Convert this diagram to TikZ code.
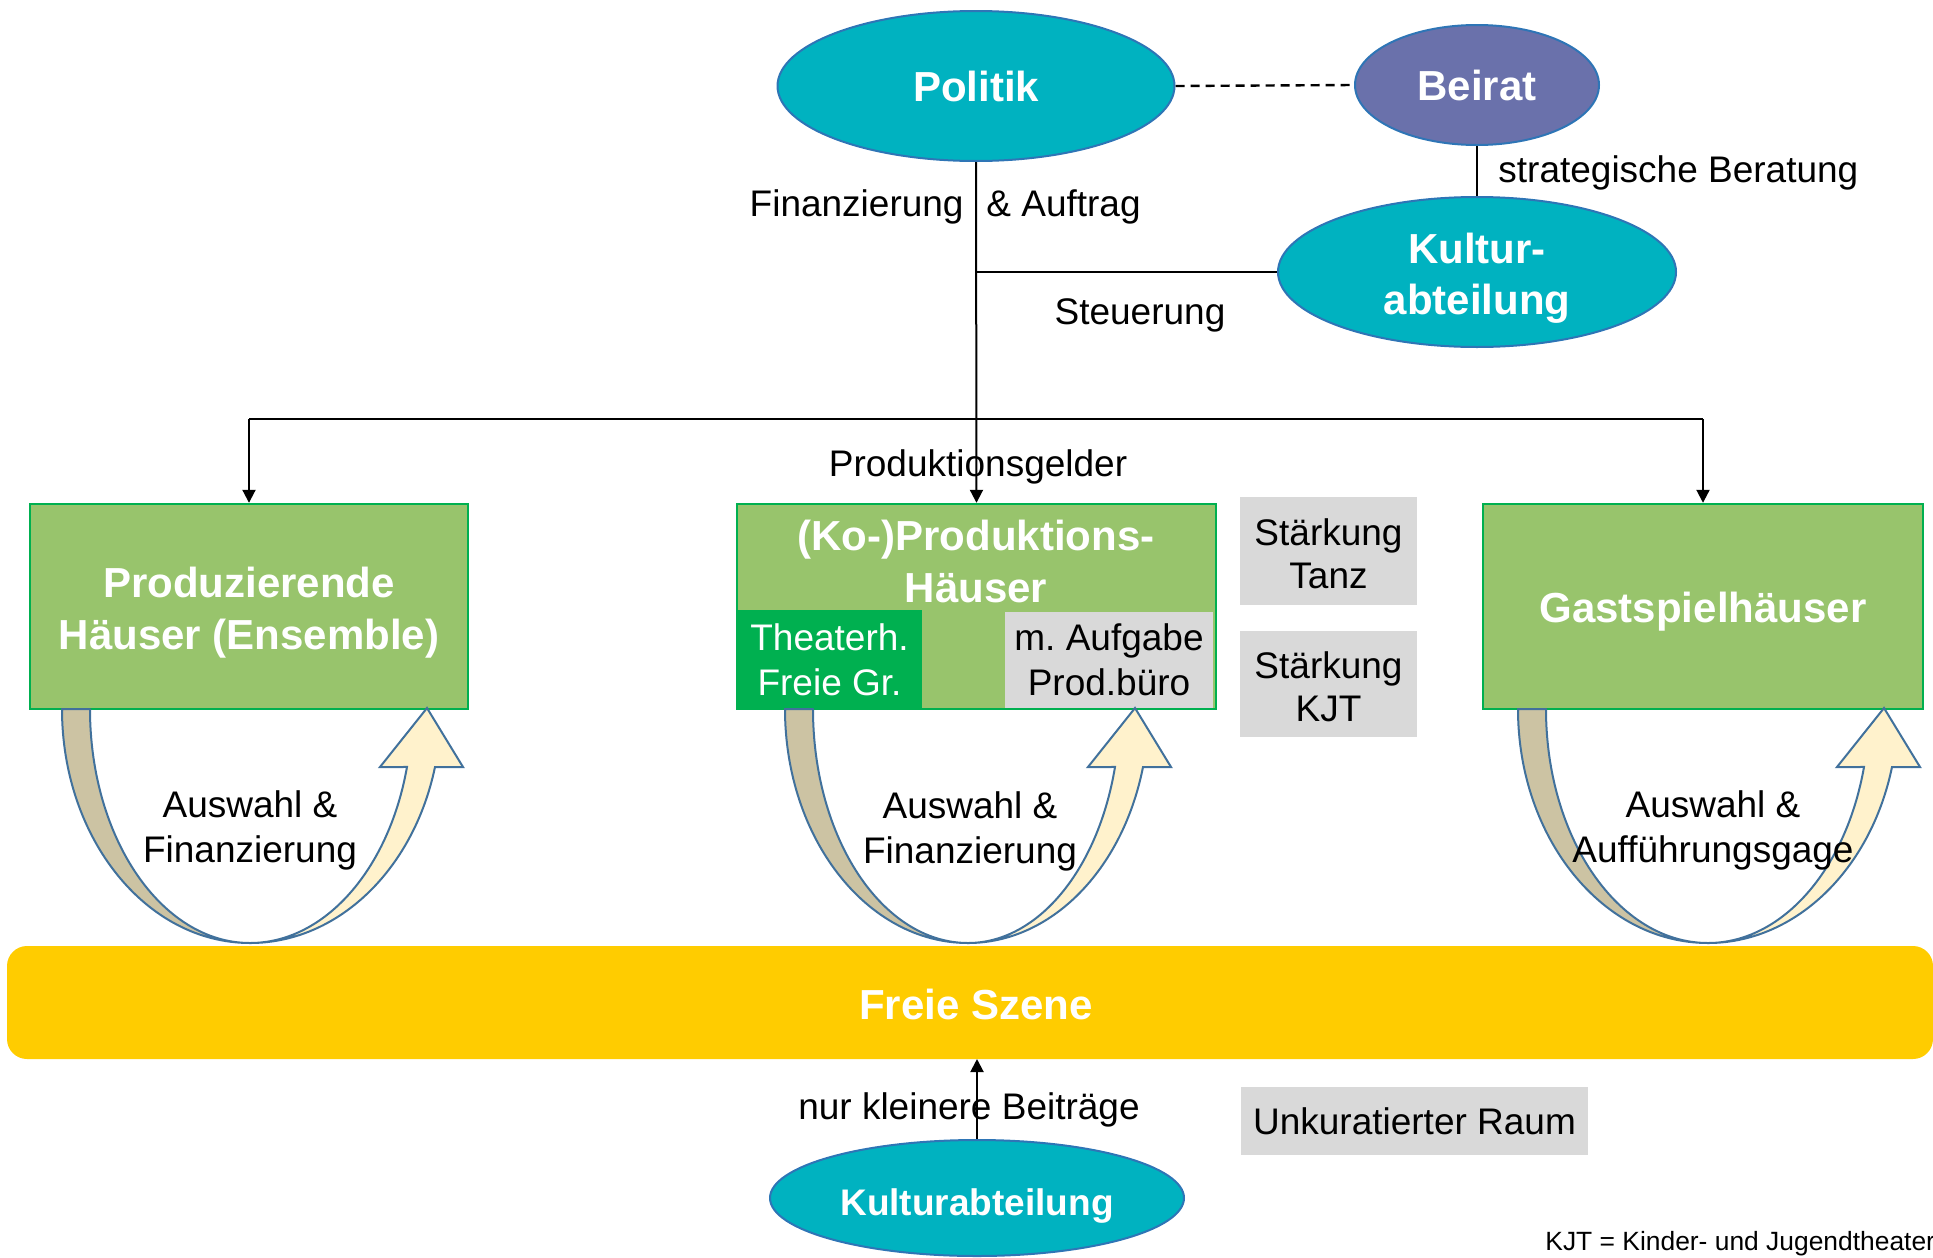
\documentclass[tikz,border=0pt]{standalone}
\usepackage{fontspec}
\setmainfont{Liberation Sans}
\frenchspacing
\usetikzlibrary{shapes.geometric,arrows.meta}
\definecolor{tealc}{HTML}{00B2C0}
\definecolor{beiratc}{HTML}{6A71AB}
\definecolor{ellline}{HTML}{2E75B6}
\definecolor{boxg}{HTML}{98C46C}
\definecolor{boxline}{HTML}{00B050}
\definecolor{darkg}{HTML}{00B050}
\definecolor{grayc}{HTML}{D9D9D9}
\definecolor{yellowc}{HTML}{FFCC00}
\definecolor{tanc}{HTML}{CCC3A3}
\definecolor{creamc}{HTML}{FFF2CC}
\definecolor{arrline}{HTML}{41719C}
\newcommand\uturn[3]{%
 \pgfmathsetmacro\ulo{#2}\pgfmathsetmacro\uli{#2-28}%
 \pgfmathsetmacro\uri{#3/0.9688}\pgfmathsetmacro\uro{(#3+28)/0.9688}%
 \filldraw[uback] ({#1-#2},709) arc[start angle=180,end angle=90,x radius=\ulo,y radius=234]
   arc[start angle=90,end angle=180,x radius=\uli,y radius=234] -- cycle;
 \filldraw[ufront] (#1,943) arc[start angle=90,end angle=14.35,x radius=\uri,y radius=234]
   -- ({#1+#3-27},767) -- ({#1+#3+20},708) -- ({#1+#3+56},767) -- ({#1+#3+28},767)
   arc[start angle=14.35,end angle=90,x radius=\uro,y radius=234] -- cycle;
}
\begin{document}
\begin{tikzpicture}[x=0.5pt,y=-0.5pt,
 reg/.style={font=\fontsize{18.5}{22.5}\selectfont, inner sep=0pt, align=center},
 bld/.style={font=\fontsize{21}{26}\selectfont\bfseries, text=white, align=center, inner sep=0pt},
 ell/.style={ellipse, draw=ellline, line width=1pt, fill=tealc, inner sep=0pt},
 house/.style={rectangle, draw=boxline, line width=1.2pt, fill=boxg, inner sep=0pt, minimum height=102.5pt},
 graybox/.style={rectangle, fill=grayc, inner sep=0pt},
 gtext/.style={font=\fontsize{18.5}{21.5}\selectfont, align=center, inner sep=0pt},
 conn/.style={line width=1pt, black},
 arr/.style={conn, -{Triangle[length=6.5pt,width=6.5pt]}},
 uback/.style={fill=tanc, draw=arrline, line width=1pt, line join=round},
 ufront/.style={fill=creamc, draw=arrline, line width=1pt, line join=miter},
]
\useasboundingbox (0,0) rectangle (1933,1258);

% Freie Szene bar
\fill[yellowc, rounded corners=10pt] (7,946) rectangle (1933,1059);
\node[bld] (szene) at (976,1004) {Freie Szene};
\coordinate (barbot) at (977,1059);

% ellipses
\node[ell, minimum width=198.5pt, minimum height=75pt, bld] (politik) at (976,86) {Politik};
\node[ell, fill=beiratc, minimum width=122pt, minimum height=60pt, bld] (beirat) at (1477,85) {Beirat};
\node[ell, minimum width=199pt, minimum height=75pt] (kultur) at (1477,272) {};
\node[bld, font=\fontsize{21}{25.5}\selectfont\bfseries] (kulturtxt) at (1477,278) {Kultur-\\abteilung};
\node[ell, minimum width=207pt, minimum height=58pt] (kbottom) at (977,1198) {};
\node[bld, font=\fontsize{18.5}{22}\selectfont\bfseries] (kbottomtxt) at (977,1206) {Kulturabteilung};

% houses
\node[house, minimum width=219pt] (left) at (249,606.5) {};
\node[bld] (lefttxt) at (249,612.5) {Produzierende\\Häuser (Ensemble)};
\node[house, minimum width=239.5pt] (mid) at (976.5,606.5) {};
\node[house, minimum width=220pt] (right) at (1703,606.5) {};
\node[bld] (righttxt) at (1703,611.5) {Gastspielhäuser};
\node[bld] (midtitle) at (976,561) {(Ko-)Produktions-\\Häuser};
\node[rectangle, fill=darkg, inner sep=0pt, minimum width=92.5pt, minimum height=49.5pt, text=white, align=center, font=\fontsize{18.5}{22.5}\selectfont] (theater) at (829.5,659.5) {Theaterh.\\Freie Gr.};
\node[graybox, minimum width=104pt, minimum height=48pt, align=center, font=\fontsize{18.5}{22.5}\selectfont] (prod) at (1109,660) {m. Aufgabe\\Prod.büro};

% gray boxes
\node[graybox, minimum width=88.5pt, minimum height=54pt] (tanz) at (1328.5,551) {};
\node[gtext] (tanztxt) at (1328.5,553.5) {Stärkung\\Tanz};
\node[graybox, minimum width=88.5pt, minimum height=53pt] (kjt) at (1328.5,684) {};
\node[gtext] (kjttxt) at (1328.5,687) {Stärkung\\KJT};
\node[graybox, minimum width=173.5pt, minimum height=34pt, gtext] (unkur) at (1414.5,1121) {Unkuratierter Raum};

% labels
\node[reg, anchor=base east] (lfin) at (964,216) {Finanzierung};
\node[reg, anchor=base west] (lauf) at (986,216) {\& Auftrag};
\node[reg, anchor=base] (lsteu) at (1140,324) {Steuerung};
\node[reg, anchor=base west] (lstrat) at (1498,182) {strategische Beratung};
\node[reg, anchor=base] (lprod) at (978,476) {Produktionsgelder};
\node[reg, anchor=base] (lnur) at (969,1119) {nur kleinere Beiträge};
\node[reg, anchor=base west, font=\fontsize{13.2}{15}\selectfont] (lkjt) at (1545,1250) {KJT = Kinder- und Jugendtheater};

% connectors
\coordinate (st) at (976,272);
\coordinate (hl) at (249,419);
\coordinate (hr) at (1703,419);
\draw[arr] (politik.south) -- (mid.north);
\draw[conn] (st) -- (kultur.west);
\draw[conn] (hl) -- (hr);
\draw[arr] (hl) -- (left.north);
\draw[arr] (hr) -- (right.north);
\draw[conn, line width=1.2pt, dash pattern=on 4.5pt off 3pt] (politik.east) -- (beirat.west);
\draw[conn] (beirat.south) -- (kultur.north);
\draw[arr] (kbottom.north) -- (barbot);

% U-turn arrows
\uturn{250}{188}{157}
\uturn{968}{183}{147}
\uturn{1708}{190}{156}

% arrow labels
\node[reg] (la1) at (250,830) {Auswahl \&\\Finanzierung};
\node[reg] (la2) at (970,831) {Auswahl \&\\Finanzierung};
\node[reg] (la3) at (1713,830) {Auswahl \&\\Aufführungsgage};
\end{tikzpicture}
\end{document}
